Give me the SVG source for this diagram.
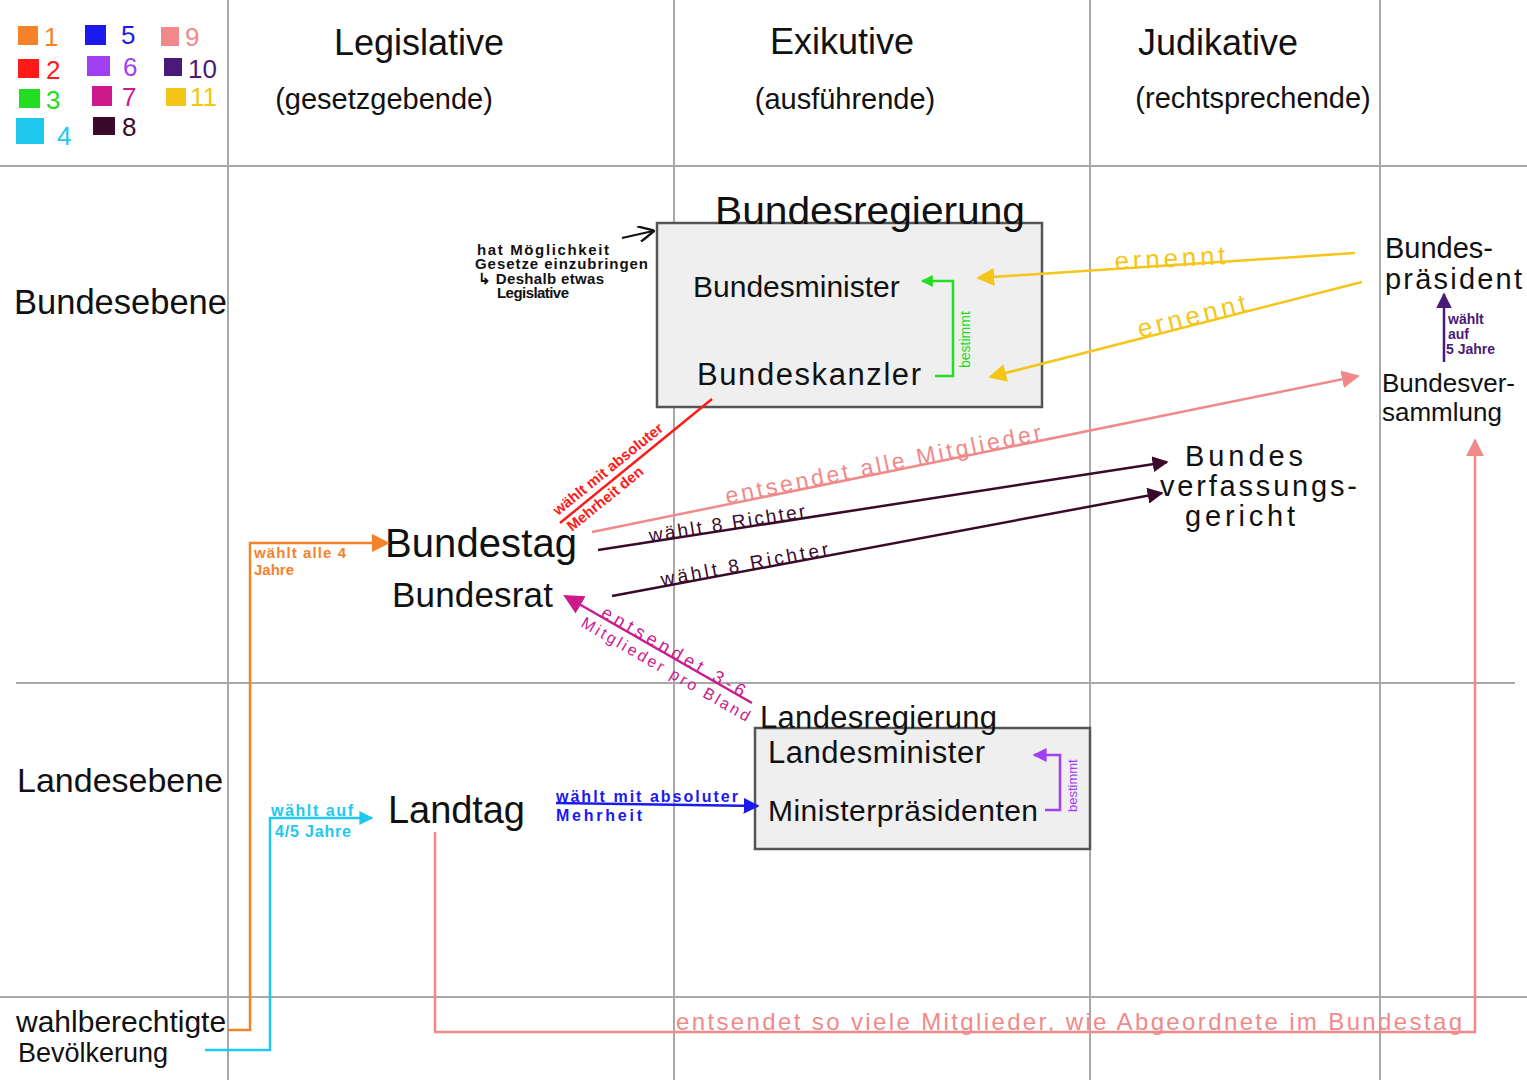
<svg xmlns="http://www.w3.org/2000/svg" width="1527" height="1080" viewBox="0 0 1527 1080">
<style>
text{font-family:"Liberation Sans","Noto Sans",sans-serif;}
.grid{stroke:#a8a8a8;stroke-width:2;fill:none}
.h1{font-size:36px;fill:#111}
.h2{font-size:29px;fill:#111}
.ln{fill:none;stroke-width:2.5}
.box{fill:#efefef;stroke:#555;stroke-width:2.5}
</style>
<defs>
<marker id="aYb" viewBox="0 0 10 10" refX="9" refY="5" markerWidth="18" markerHeight="18" orient="auto" markerUnits="userSpaceOnUse"><path d="M0,0L10,5L0,10z" fill="#f5c518"/></marker>
<marker id="aG" viewBox="0 0 10 10" refX="9" refY="5" markerWidth="12" markerHeight="12" orient="auto" markerUnits="userSpaceOnUse"><path d="M0,0L10,5L0,10z" fill="#22dd22"/></marker>
<marker id="aS" viewBox="0 0 10 10" refX="9" refY="5" markerWidth="18" markerHeight="18" orient="auto" markerUnits="userSpaceOnUse"><path d="M0,0L10,5L0,10z" fill="#f08a8a"/></marker>
<marker id="aM" viewBox="0 0 10 10" refX="9" refY="5" markerWidth="16" markerHeight="16" orient="auto" markerUnits="userSpaceOnUse"><path d="M0,0L10,5L0,10z" fill="#3a0a2a"/></marker>
<marker id="aMg" viewBox="0 0 10 10" refX="9" refY="5" markerWidth="20" markerHeight="20" orient="auto" markerUnits="userSpaceOnUse"><path d="M0,0L10,5L0,10z" fill="#cc1a8c"/></marker>
<marker id="aO" viewBox="0 0 10 10" refX="9" refY="5" markerWidth="18" markerHeight="18" orient="auto" markerUnits="userSpaceOnUse"><path d="M0,0L10,5L0,10z" fill="#f5822a"/></marker>
<marker id="aC" viewBox="0 0 10 10" refX="9" refY="5" markerWidth="14" markerHeight="14" orient="auto" markerUnits="userSpaceOnUse"><path d="M0,0L10,5L0,10z" fill="#1ec8ee"/></marker>
<marker id="aB" viewBox="0 0 10 10" refX="9" refY="5" markerWidth="16" markerHeight="16" orient="auto" markerUnits="userSpaceOnUse"><path d="M0,0L10,5L0,10z" fill="#1a1aee"/></marker>
<marker id="aP" viewBox="0 0 10 10" refX="9" refY="5" markerWidth="14" markerHeight="14" orient="auto" markerUnits="userSpaceOnUse"><path d="M0,0L10,5L0,10z" fill="#a040f0"/></marker>
<marker id="aDP" viewBox="0 0 10 10" refX="9" refY="5" markerWidth="16" markerHeight="16" orient="auto" markerUnits="userSpaceOnUse"><path d="M0,0L10,5L0,10z" fill="#4a1a7a"/></marker>
<marker id="aK" viewBox="0 0 10 10" refX="9" refY="5" markerWidth="16" markerHeight="16" orient="auto" markerUnits="userSpaceOnUse"><path d="M0,0L10,5L0,10" fill="none" stroke="#111" stroke-width="1.5"/></marker>
</defs>
<rect width="1527" height="1080" fill="#fff"/>

<g id="grid">
<line class="grid" x1="228" y1="0" x2="228" y2="1080"/>
<line class="grid" x1="674" y1="0" x2="674" y2="1080"/>
<line class="grid" x1="1090" y1="0" x2="1090" y2="1080"/>
<line class="grid" x1="1380" y1="0" x2="1380" y2="1080"/>
<line class="grid" x1="0" y1="166" x2="1527" y2="166"/>
<line class="grid" x1="16" y1="683" x2="1515" y2="683"/>
<line class="grid" x1="0" y1="997" x2="1527" y2="997"/>
</g>

<g id="legend" font-size="26">
<rect x="18" y="26" width="20" height="19" fill="#f5822a"/><text x="44" y="46" fill="#f5822a">1</text>
<rect x="18" y="59" width="21" height="19" fill="#ff1a1a"/><text x="46" y="79" fill="#ff1a1a">2</text>
<rect x="19" y="89" width="21" height="19" fill="#22dd22"/><text x="46" y="109" fill="#22dd22">3</text>
<rect x="16" y="118" width="28" height="26" fill="#1ec8ee"/><text x="57" y="145" fill="#1ec8ee">4</text>
<rect x="85" y="25" width="21" height="20" fill="#1a1aee"/><text x="121" y="44" fill="#1a1aee">5</text>
<rect x="87" y="56" width="23" height="20" fill="#a040f0"/><text x="123" y="76" fill="#a040f0">6</text>
<rect x="92" y="86" width="20" height="20" fill="#cc1a8c"/><text x="122" y="106" fill="#cc1a8c">7</text>
<rect x="93" y="117" width="22" height="18" fill="#3a0a2a"/><text x="122" y="136" fill="#3a0a2a">8</text>
<rect x="161" y="27" width="18" height="19" fill="#f08a8a"/><text x="185" y="46" fill="#f08a8a">9</text>
<rect x="164" y="58" width="18" height="18" fill="#4a1a7a"/><text x="188" y="78" fill="#4a1a7a">10</text>
<rect x="166" y="88" width="20" height="18" fill="#f5c518"/><text x="190" y="106" fill="#f5c518">11</text>
</g>

<g id="headers">
<text class="h1" x="419" y="55" text-anchor="middle">Legislative</text>
<text class="h2" x="384" y="109" text-anchor="middle">(gesetzgebende)</text>
<text class="h1" x="842" y="54" text-anchor="middle">Exikutive</text>
<text class="h2" x="845" y="109" text-anchor="middle">(ausführende)</text>
<text class="h1" x="1218" y="55" text-anchor="middle">Judikative</text>
<text class="h2" x="1253" y="108" text-anchor="middle">(rechtsprechende)</text>
</g>

<g id="rows">
<text x="14" y="314" font-size="34.5" fill="#111">Bundesebene</text>
<text x="17" y="792" font-size="34" fill="#111">Landesebene</text>
<text x="16" y="1032" font-size="30" fill="#111">wahlberechtigte</text>
<text x="18" y="1062" font-size="27" fill="#111">Bevölkerung</text>
</g>

<g id="bundesregierung">
<rect class="box" x="657" y="223" width="385" height="184"/>
<text x="870" y="224" font-size="38" fill="#111" text-anchor="middle" textLength="310" lengthAdjust="spacingAndGlyphs">Bundesregierung</text>
<text x="693" y="297" font-size="30" fill="#111">Bundesminister</text>
<text x="697" y="385" font-size="31" fill="#111" textLength="224">Bundeskanzler</text>
</g>

<g id="bundespraesident">
<text x="1385" y="258" font-size="29" fill="#111">Bundes-</text>
<text x="1385" y="289" font-size="29" fill="#111" textLength="137">präsident</text>
</g>

<g id="bundesversammlung">
<text x="1382" y="392" font-size="26" fill="#111">Bundesver-</text>
<text x="1382" y="421" font-size="26" fill="#111">sammlung</text>
</g>

<g id="bverfg">
<text x="1185" y="466" font-size="29" fill="#111" textLength="118">Bundes</text>
<text x="1160" y="496" font-size="29" fill="#111" textLength="197">verfassungs-</text>
<text x="1185" y="526" font-size="29" fill="#111" textLength="110">gericht</text>
</g>

<g id="bundestag">
<text x="385" y="557" font-size="40" fill="#111" textLength="192">Bundestag</text>
</g>
<g id="bundesrat">
<text x="392" y="607" font-size="35" fill="#111" textLength="161">Bundesrat</text>
</g>

<g id="landtag">
<text x="388" y="823" font-size="38" fill="#111" textLength="137">Landtag</text>
</g>

<g id="landesregierung">
<rect class="box" x="755" y="728" width="335" height="121"/>
<text x="760" y="728" font-size="31" fill="#111" textLength="237">Landesregierung</text>
<text x="768" y="763" font-size="31" fill="#111" textLength="217">Landesminister</text>
<text x="768" y="821" font-size="30" fill="#111" textLength="270">Ministerpräsidenten</text>
</g>

<g id="connectors">
<line x1="622" y1="238" x2="653" y2="231" stroke="#111" stroke-width="2" marker-end="url(#aK)"/>
<polyline class="ln" points="935,376 953,376 953,281 922,281" stroke="#22dd22" marker-end="url(#aG)"/>
<line class="ln" x1="1355" y1="253" x2="978" y2="278" stroke="#f5c518" marker-end="url(#aYb)"/>
<line class="ln" x1="1362" y1="282" x2="990" y2="377" stroke="#f5c518" marker-end="url(#aYb)"/>
<line class="ln" x1="1444" y1="362" x2="1444" y2="294" stroke="#4a1a7a" marker-end="url(#aDP)"/>
<line class="ln" x1="592" y1="532" x2="1358" y2="376" stroke="#f08a8a" marker-end="url(#aS)"/>
<line class="ln" x1="598" y1="550" x2="1167" y2="462" stroke="#3a0a2a" marker-end="url(#aM)"/>
<line class="ln" x1="612" y1="596" x2="1162" y2="493" stroke="#3a0a2a" marker-end="url(#aM)"/>
<line class="ln" x1="712" y1="399" x2="560" y2="523" stroke="#ff1a1a"/>
<polyline class="ln" points="228,1030 250,1030 250,543 388,543" stroke="#f5822a" marker-end="url(#aO)"/>
<polyline class="ln" points="205,1050 270,1050 270,818 372,818" stroke="#1ec8ee" marker-end="url(#aC)"/>
<line class="ln" x1="556" y1="803" x2="758" y2="806" stroke="#1a1aee" marker-end="url(#aB)"/>
<polyline class="ln" points="435,832 435,1032 1475,1032 1475,440" stroke="#f08a8a" marker-end="url(#aS)"/>
<line class="ln" x1="752" y1="703" x2="565" y2="596" stroke="#cc1a8c" marker-end="url(#aMg)"/>
<polyline class="ln" points="1045,810 1060,810 1060,755 1034,755" stroke="#a040f0" marker-end="url(#aP)"/>
</g>

<g id="labels">
<g fill="#111" font-size="15" font-weight="bold">
<text x="477" y="255" textLength="132">hat Möglichkeit</text>
<text x="475" y="269" textLength="173">Gesetze einzubringen</text>
<text x="478" y="284" textLength="126">↳ Deshalb etwas</text>
<text x="497" y="298" textLength="72">Legislative</text>
</g>
<text x="970" y="368" font-size="14" fill="#22dd22" transform="rotate(-90 970 368)">bestimmt</text>
<text x="1115" y="270" font-size="26" fill="#f5c518" transform="rotate(-3 1115 270)" textLength="111">ernennt</text>
<text x="1140" y="338" font-size="26" fill="#f5c518" transform="rotate(-14 1140 338)" textLength="111">ernennt</text>
<g fill="#4a1a7a" font-size="14" font-weight="bold">
<text x="1448" y="324">wählt</text>
<text x="1448" y="339">auf</text>
<text x="1446" y="354">5 Jahre</text>
</g>
<text x="727" y="504" font-size="23" fill="#f08a8a" transform="rotate(-11.5 727 504)" textLength="322">entsendet alle Mitglieder</text>
<text x="650" y="542" font-size="19" fill="#3a0a2a" transform="rotate(-9 650 542)" textLength="158">wählt 8 Richter</text>
<text x="662" y="586" font-size="19" fill="#3a0a2a" transform="rotate(-10.5 662 586)" textLength="170">wählt 8 Richter</text>
<text x="558" y="516" font-size="15" font-weight="bold" fill="#ff1a1a" transform="rotate(-39 558 516)">wählt mit absoluter</text>
<text x="572" y="532" font-size="15" font-weight="bold" fill="#ff1a1a" transform="rotate(-39 572 532)">Mehrheit den</text>
<g fill="#f5822a" font-size="15" font-weight="bold">
<text x="254" y="558" textLength="92">wählt alle 4</text>
<text x="254" y="575">Jahre</text>
</g>
<g fill="#1ec8ee" font-size="16" font-weight="bold">
<text x="271" y="816" text-decoration="underline" textLength="82">wählt auf</text>
<text x="275" y="837" textLength="76">4/5 Jahre</text>
</g>
<g fill="#1a1aee" font-size="16" font-weight="bold">
<text x="556" y="802" textLength="182">wählt mit absoluter</text>
<text x="556" y="821" textLength="86">Mehrheit</text>
</g>
<text x="676" y="1030" font-size="24" fill="#f08a8a" textLength="786">entsendet so viele Mitglieder, wie Abgeordnete im Bundestag</text>
<text x="600" y="616" font-size="18" fill="#cc1a8c" transform="rotate(30 600 616)" textLength="163">entsendet 3-6</text>
<text x="580" y="626" font-size="16" fill="#cc1a8c" transform="rotate(30 580 626)" textLength="192">Mitglieder pro Bland</text>
<text x="1077" y="812" font-size="13" fill="#a040f0" transform="rotate(-90 1077 812)">bestimmt</text>
</g>
</svg>
